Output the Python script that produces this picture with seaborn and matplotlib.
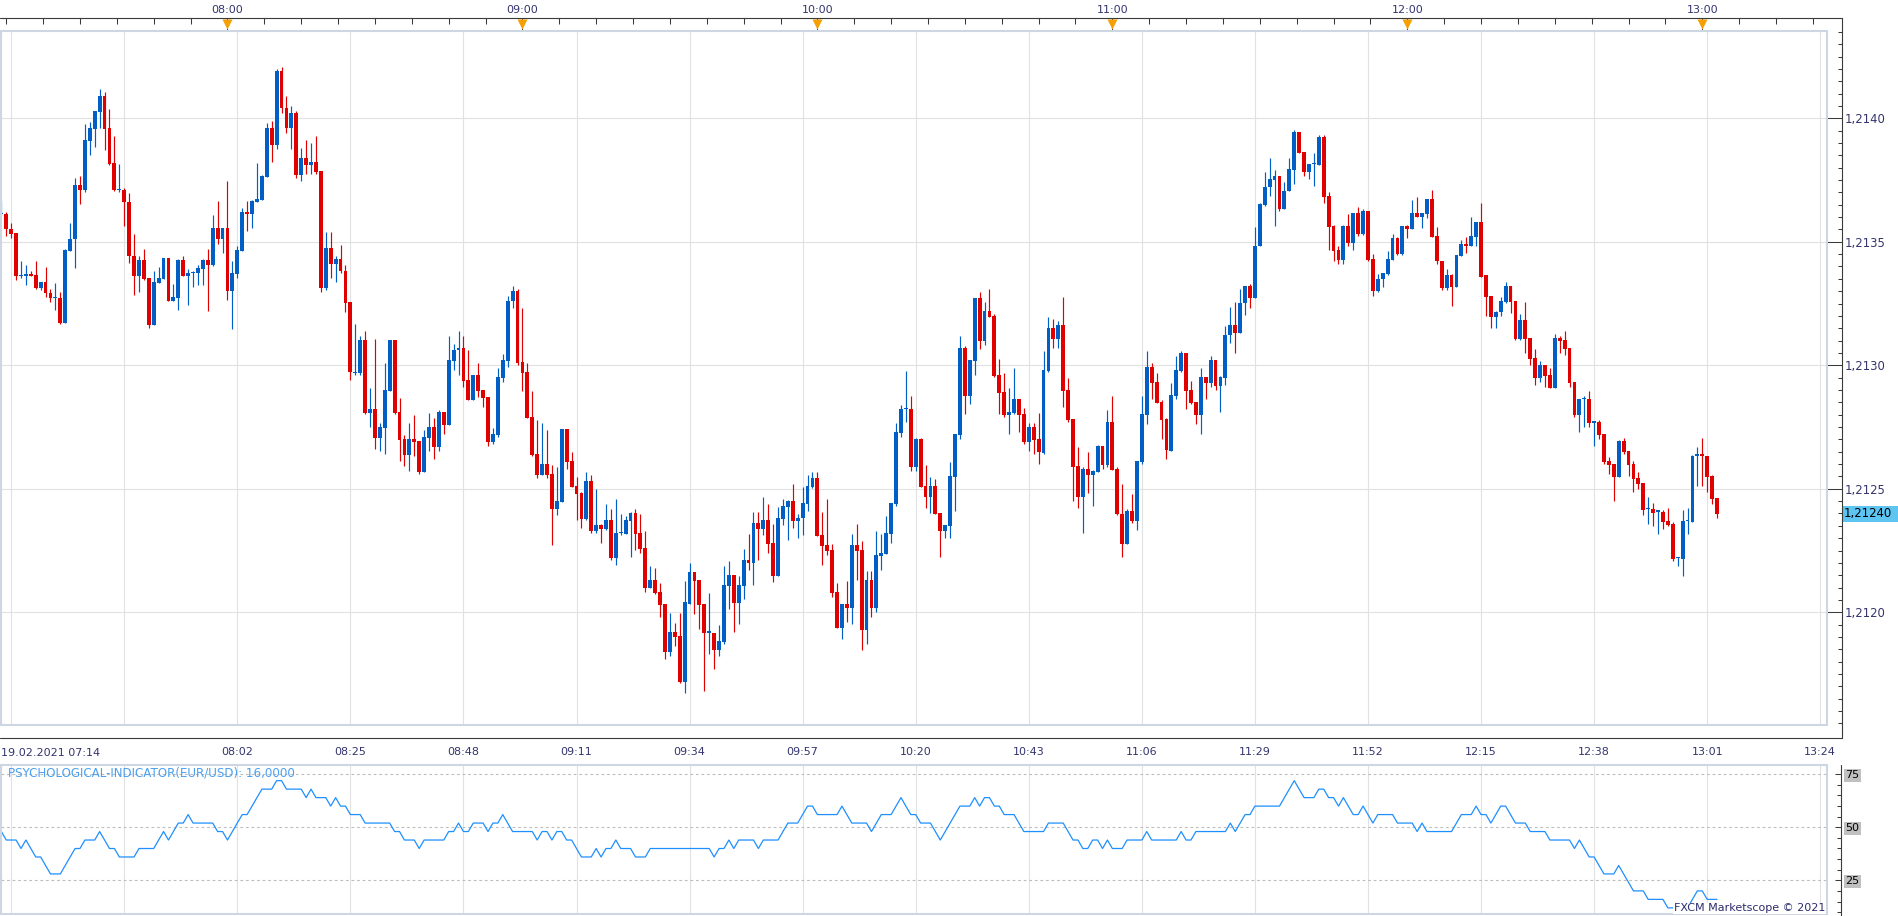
import numpy as np
import pandas as pd
import matplotlib
matplotlib.use("Agg")
import matplotlib.pyplot as plt
import seaborn as sns
from matplotlib.lines import Line2D
from matplotlib.patches import Rectangle
from matplotlib.ticker import FixedLocator, FuncFormatter
from matplotlib.transforms import blended_transform_factory

# EUR/USD 1-minute candles, prices in pips above 1.2100
BASE = 1.2100
PIP = 0.0001
start_time = "07:14"
date_label = "19.02.2021"

open_pips = [
    36.12, 36.14, 35.52, 35.34, 33.62, 33.62, 33.71, 33.64, 33.13, 33.36,
    32.94, 32.74, 32.74, 31.71, 34.62, 35.10, 37.31, 37.08, 39.10, 39.58,
    40.27, 40.90, 39.61, 38.20, 37.10, 37.10, 36.63, 34.42, 33.62, 34.25,
    33.52, 31.64, 33.34, 33.48, 34.33, 32.61, 32.73, 34.25, 33.62, 33.72,
    33.72, 33.88, 34.25, 34.08, 35.54, 35.10, 35.54, 33.01, 33.68, 34.62,
    36.22, 36.12, 36.61, 36.68, 37.63, 39.60, 38.93, 41.90, 40.40, 39.60,
    40.20, 37.71, 38.41, 38.12, 38.22, 37.86, 33.12, 34.73, 34.09, 34.32,
    33.83, 32.55, 29.70, 29.70, 31.03, 28.08, 28.22, 27.06, 27.47, 28.97,
    31.03, 28.10, 27.01, 26.37, 27.01, 26.92, 25.68, 27.06, 27.49, 26.69,
    28.10, 27.59, 30.19, 30.60, 30.70, 29.40, 28.60, 29.61, 29.00, 28.71,
    26.90, 27.18, 29.50, 30.19, 32.60, 33.00, 30.14, 29.73, 27.91, 26.39,
    25.55, 26.00, 25.59, 24.18, 24.46, 27.42, 26.12, 25.11, 24.84, 23.77,
    25.31, 23.28, 23.53, 23.36, 23.73, 22.19, 23.20, 23.16, 23.69, 24.01,
    23.20, 22.59, 20.97, 21.30, 20.81, 20.32, 18.38, 19.19, 19.03, 17.16,
    20.35, 21.62, 21.30, 20.32, 19.18, 19.18, 18.46, 18.78, 21.05, 21.50,
    20.36, 21.05, 22.11, 22.00, 23.61, 23.38, 23.73, 22.81, 21.47, 23.77,
    24.26, 24.50, 23.70, 23.81, 24.38, 25.07, 25.43, 23.12, 22.72, 22.51,
    20.81, 19.36, 20.32, 20.18, 22.72, 22.51, 19.28, 21.30, 20.18, 22.28,
    22.36, 23.18, 24.39, 27.27, 28.23, 28.23, 25.89, 27.01, 25.11, 24.68,
    25.11, 24.01, 23.30, 23.50, 25.49, 27.19, 30.70, 28.77, 30.19, 32.73,
    31.00, 32.20, 32.00, 29.61, 28.92, 27.99, 28.08, 28.63, 28.02, 26.88,
    27.49, 27.01, 26.45, 29.78, 31.52, 31.08, 31.64, 29.00, 27.82, 25.91,
    24.66, 25.79, 25.56, 25.68, 26.73, 25.96, 27.70, 25.79, 24.00, 22.75,
    24.09, 23.69, 26.08, 27.99, 29.93, 29.32, 28.51, 27.82, 26.54, 28.77,
    29.78, 30.50, 29.00, 28.51, 27.99, 29.53, 29.30, 30.22, 29.17, 29.50,
    31.21, 31.64, 31.29, 32.51, 33.23, 32.72, 34.82, 36.51, 37.20, 37.50,
    37.65, 36.31, 37.04, 37.89, 39.43, 38.62, 37.81, 38.14, 38.09, 39.23,
    36.84, 35.62, 34.65, 34.28, 35.62, 34.97, 36.15, 35.30, 36.23, 34.32,
    32.99, 33.51, 33.68, 34.28, 35.14, 34.49, 35.62, 35.50, 36.15, 35.99,
    36.11, 36.72, 35.22, 34.24, 33.11, 33.64, 33.19, 34.41, 34.93, 34.81,
    35.18, 35.82, 33.64, 32.82, 31.97, 32.14, 32.57, 33.22, 32.62, 31.07,
    31.84, 31.11, 30.30, 29.49, 30.01, 29.61, 29.08, 31.11, 31.03, 30.70,
    29.32, 27.98, 28.63, 28.63, 27.68, 27.70, 27.21, 26.11, 25.99, 25.46,
    26.92, 26.52, 25.99, 25.42, 25.22, 24.19, 24.20, 24.08, 24.08, 23.71,
    23.59, 22.21, 22.17, 23.71, 23.67, 26.31, 26.40, 26.31, 25.50, 24.61,
]
high_pips = [
    36.67, 36.20, 35.76, 35.34, 34.21, 34.08, 33.80, 34.21, 33.36, 34.00,
    33.10, 33.32, 32.98, 34.69, 35.78, 37.58, 37.67, 39.77, 39.85, 40.30,
    41.18, 41.06, 40.38, 39.29, 38.16, 37.19, 36.98, 35.30, 34.42, 34.69,
    33.52, 33.80, 34.00, 34.33, 34.33, 33.30, 34.29, 34.42, 33.88, 33.82,
    34.08, 34.29, 34.69, 36.10, 36.67, 35.54, 37.47, 34.21, 34.82, 36.38,
    36.67, 36.68, 38.18, 37.70, 39.80, 39.90, 42.00, 42.09, 40.90, 40.50,
    40.30, 38.79, 39.12, 39.00, 39.30, 37.86, 35.38, 35.38, 34.42, 34.89,
    34.08, 32.57, 31.68, 31.19, 31.40, 29.08, 31.07, 27.66, 30.09, 31.03,
    31.03, 28.69, 27.18, 27.66, 27.98, 26.92, 27.37, 28.06, 27.86, 28.18,
    28.10, 31.19, 30.87, 31.40, 31.19, 30.60, 29.61, 30.09, 29.00, 28.71,
    27.45, 29.89, 30.46, 32.80, 33.20, 33.10, 32.30, 30.08, 28.96, 27.78,
    27.66, 27.38, 25.96, 25.88, 27.42, 27.42, 26.49, 25.47, 24.86, 25.68,
    25.55, 24.99, 23.57, 24.38, 24.18, 24.58, 23.97, 23.89, 24.05, 24.18,
    23.97, 23.28, 21.86, 21.78, 21.18, 20.32, 19.96, 19.55, 19.96, 21.26,
    21.99, 21.62, 21.30, 20.32, 20.77, 19.18, 19.47, 21.86, 22.07, 21.50,
    21.46, 22.55, 23.16, 24.05, 24.05, 24.66, 24.38, 23.57, 24.26, 24.58,
    24.54, 25.19, 23.97, 25.07, 25.55, 25.68, 25.68, 24.05, 24.58, 22.76,
    21.18, 20.32, 21.26, 23.16, 23.57, 22.88, 21.66, 21.66, 23.28, 23.16,
    23.89, 24.42, 27.66, 28.39, 29.77, 28.76, 27.05, 27.05, 25.96, 25.47,
    25.39, 24.01, 23.53, 26.08, 27.22, 31.19, 30.78, 30.22, 32.73, 32.97,
    32.57, 33.10, 32.08, 30.26, 29.69, 29.08, 29.89, 28.63, 28.27, 27.66,
    27.66, 28.06, 30.58, 31.96, 31.88, 31.80, 32.78, 29.49, 27.82, 26.68,
    25.87, 26.48, 25.75, 26.78, 26.73, 28.18, 28.75, 25.88, 25.18, 24.17,
    24.77, 26.11, 28.75, 30.58, 30.09, 29.69, 28.59, 27.87, 29.28, 30.38,
    30.58, 30.50, 29.36, 28.51, 29.89, 29.53, 30.38, 30.22, 29.57, 31.60,
    32.37, 32.57, 33.10, 33.22, 33.30, 35.58, 36.59, 37.81, 38.38, 37.89,
    37.65, 37.41, 38.38, 39.51, 39.43, 38.62, 38.14, 38.58, 39.31, 39.31,
    37.00, 35.70, 34.81, 35.70, 36.11, 36.15, 36.39, 36.31, 36.23, 34.49,
    33.68, 33.72, 34.61, 35.30, 35.18, 35.62, 35.66, 36.68, 36.80, 36.15,
    36.72, 37.08, 35.58, 34.24, 33.88, 33.68, 34.45, 35.09, 35.18, 35.99,
    35.82, 36.59, 33.64, 32.82, 32.18, 32.78, 33.39, 33.22, 32.62, 32.09,
    32.57, 31.11, 30.66, 30.18, 30.01, 29.89, 31.27, 31.19, 31.40, 30.70,
    29.32, 28.63, 28.75, 28.96, 27.74, 27.78, 27.21, 26.27, 25.99, 26.96,
    27.05, 26.52, 26.11, 25.66, 25.22, 24.65, 24.44, 24.12, 24.16, 24.24,
    23.67, 22.25, 24.16, 24.24, 26.36, 26.68, 27.05, 26.31, 25.54, 24.61,
]
low_pips = [
    36.12, 35.23, 35.15, 33.45, 33.55, 33.24, 33.62, 33.08, 33.05, 32.77,
    32.56, 32.24, 31.67, 31.71, 34.62, 33.94, 36.55, 37.03, 38.52, 38.82,
    39.62, 38.72, 38.12, 37.04, 37.03, 35.63, 34.14, 32.85, 32.98, 33.45,
    31.49, 31.64, 33.34, 33.48, 32.61, 32.61, 32.24, 33.62, 32.45, 33.17,
    33.26, 33.26, 32.18, 34.04, 34.93, 34.53, 32.65, 31.48, 33.52, 34.62,
    35.42, 35.54, 36.61, 36.68, 37.63, 38.24, 38.75, 40.20, 39.40, 38.75,
    37.60, 37.45, 37.75, 37.75, 37.75, 32.95, 33.04, 33.52, 33.36, 33.73,
    32.14, 29.42, 29.62, 29.62, 28.02, 27.51, 26.61, 26.53, 26.41, 28.97,
    28.02, 26.12, 25.92, 25.72, 26.33, 25.60, 25.68, 26.53, 26.21, 26.53,
    27.22, 27.59, 29.81, 29.62, 29.13, 28.60, 28.60, 28.73, 28.32, 26.73,
    26.82, 27.10, 29.34, 29.95, 32.30, 30.01, 28.96, 27.88, 26.32, 25.45,
    25.55, 25.45, 22.72, 23.93, 24.46, 25.81, 25.08, 23.73, 23.41, 23.73,
    23.20, 23.20, 22.80, 23.32, 22.11, 21.91, 23.12, 23.16, 22.23, 22.51,
    22.39, 20.81, 20.97, 20.73, 19.80, 18.09, 18.22, 18.62, 17.12, 16.72,
    20.32, 19.92, 19.31, 16.80, 18.30, 17.69, 18.22, 18.70, 20.12, 19.19,
    19.51, 20.53, 21.70, 21.11, 22.12, 23.14, 22.41, 21.23, 21.47, 23.54,
    22.93, 23.42, 23.01, 23.14, 24.11, 25.03, 23.09, 21.92, 22.32, 20.62,
    19.36, 18.92, 19.61, 19.53, 21.31, 18.47, 18.72, 19.81, 20.01, 21.72,
    22.36, 22.81, 24.31, 27.11, 27.72, 25.73, 25.73, 25.08, 24.23, 24.03,
    23.99, 22.24, 23.01, 23.01, 24.11, 27.03, 28.04, 28.45, 29.62, 30.64,
    30.84, 31.97, 29.54, 28.04, 27.91, 27.21, 28.04, 27.30, 26.82, 26.53,
    26.41, 26.00, 26.41, 29.74, 30.72, 30.72, 28.32, 27.71, 24.50, 24.21,
    23.20, 24.82, 24.30, 25.68, 25.80, 25.88, 25.76, 23.93, 22.22, 22.75,
    23.60, 23.32, 26.00, 27.63, 28.64, 28.48, 27.02, 26.21, 26.53, 28.64,
    29.74, 28.24, 28.44, 27.63, 27.22, 28.64, 29.13, 29.01, 28.12, 29.21,
    30.92, 30.51, 31.29, 32.02, 32.33, 32.72, 34.82, 36.43, 36.84, 35.62,
    36.23, 36.31, 37.04, 37.32, 38.58, 37.65, 37.53, 37.24, 38.09, 36.59,
    34.65, 34.24, 34.12, 34.12, 34.85, 34.65, 35.22, 35.26, 34.24, 32.82,
    32.95, 33.15, 33.64, 34.28, 34.45, 34.45, 35.14, 35.50, 35.99, 35.54,
    35.95, 35.18, 34.12, 33.03, 33.03, 32.42, 33.19, 34.41, 34.53, 34.81,
    34.85, 33.59, 32.01, 31.53, 31.53, 32.00, 32.53, 32.13, 31.03, 31.03,
    30.50, 30.01, 29.20, 29.32, 29.12, 29.08, 29.08, 30.50, 30.42, 29.12,
    27.90, 27.29, 27.49, 27.49, 26.72, 27.01, 25.99, 25.58, 24.49, 25.46,
    26.40, 25.50, 24.89, 25.01, 23.92, 23.59, 23.51, 23.18, 23.39, 23.51,
    22.09, 21.88, 21.48, 23.18, 23.67, 25.10, 25.10, 24.89, 24.40, 23.81,
]
close_pips = [
    36.14, 35.52, 35.32, 33.62, 33.65, 33.71, 33.62, 33.13, 33.36, 32.94,
    32.73, 32.75, 31.71, 34.65, 35.13, 37.31, 37.08, 39.13, 39.61, 40.30,
    40.90, 39.58, 38.16, 37.08, 37.12, 36.60, 34.42, 33.62, 34.25, 33.48,
    31.64, 33.36, 33.52, 34.33, 32.61, 32.76, 34.25, 33.62, 33.72, 33.73,
    33.92, 34.25, 34.08, 35.54, 35.10, 35.54, 33.01, 33.72, 34.65, 36.22,
    36.12, 36.64, 36.72, 37.67, 39.60, 38.93, 41.90, 40.40, 39.60, 40.20,
    37.71, 38.41, 38.12, 38.22, 37.83, 33.12, 34.73, 34.09, 34.32, 33.81,
    32.51, 29.72, 29.72, 31.03, 28.05, 28.22, 27.06, 27.49, 29.00, 31.03,
    28.08, 26.98, 26.37, 27.01, 26.90, 25.68, 27.10, 27.49, 26.69, 28.10,
    27.59, 30.22, 30.62, 30.70, 29.38, 28.60, 29.61, 28.97, 28.69, 26.90,
    27.21, 29.53, 30.22, 32.60, 33.00, 30.08, 29.70, 27.88, 26.36, 25.55,
    26.00, 25.55, 24.18, 24.50, 27.42, 26.08, 25.08, 24.78, 23.77, 25.31,
    23.28, 23.53, 23.36, 23.73, 22.19, 23.20, 23.22, 23.73, 24.01, 23.16,
    22.55, 20.97, 21.30, 20.77, 20.28, 18.38, 19.19, 18.99, 17.16, 20.41,
    21.62, 21.26, 20.28, 19.15, 19.19, 18.46, 18.82, 21.09, 21.50, 20.36,
    21.09, 22.11, 22.00, 23.61, 23.38, 23.73, 22.77, 21.47, 23.81, 24.30,
    24.50, 23.70, 23.81, 24.42, 25.11, 25.43, 23.09, 22.69, 22.49, 20.78,
    19.36, 20.32, 20.18, 22.72, 22.49, 19.28, 21.30, 20.18, 22.31, 22.39,
    23.20, 24.42, 27.30, 28.23, 28.25, 25.89, 27.01, 25.08, 24.68, 25.11,
    23.99, 23.30, 23.53, 25.51, 27.22, 30.70, 28.77, 30.22, 32.73, 31.00,
    32.20, 31.97, 29.57, 28.89, 27.99, 28.10, 28.63, 27.99, 26.88, 27.49,
    26.98, 26.49, 29.81, 31.52, 31.08, 31.64, 28.97, 27.79, 25.88, 24.66,
    25.79, 25.56, 25.72, 26.73, 25.96, 27.70, 25.76, 23.97, 22.75, 24.09,
    23.69, 26.11, 28.02, 29.93, 29.30, 28.48, 27.79, 26.57, 28.79, 29.81,
    30.50, 28.97, 28.48, 27.99, 29.53, 29.30, 30.22, 29.17, 29.53, 31.23,
    31.64, 31.29, 32.53, 33.22, 32.72, 34.85, 36.55, 37.20, 37.53, 37.65,
    36.31, 37.04, 37.93, 39.43, 38.58, 37.81, 38.14, 38.16, 39.23, 36.80,
    35.58, 34.61, 34.28, 35.62, 34.97, 36.15, 35.30, 36.23, 34.28, 32.99,
    33.51, 33.72, 34.32, 35.14, 34.49, 35.62, 35.50, 36.15, 35.99, 36.15,
    36.72, 35.18, 34.24, 33.11, 33.64, 33.19, 34.45, 34.93, 34.81, 35.22,
    35.82, 33.59, 32.78, 31.97, 32.14, 32.62, 33.22, 32.57, 31.07, 31.84,
    31.07, 30.26, 29.49, 30.01, 29.57, 29.08, 31.11, 30.99, 30.66, 29.28,
    27.98, 28.63, 28.65, 27.66, 27.70, 27.17, 26.07, 25.95, 25.46, 26.92,
    26.48, 25.95, 25.38, 25.18, 24.16, 24.21, 24.04, 24.10, 23.67, 23.55,
    22.17, 22.23, 23.71, 23.73, 26.31, 26.40, 26.31, 25.46, 24.57, 23.97,
]
# psychological indicator (share of rising bars, %)
psy_values = [
    48, 44, 44, 44, 40, 44, 40, 36, 36, 32, 28, 28, 28, 32, 36, 40, 40, 44, 44, 44,
    48, 44, 40, 40, 36, 36, 36, 36, 40, 40, 40, 40, 44, 48, 44, 48, 52, 52, 56, 52,
    52, 52, 52, 52, 48, 48, 44, 48, 52, 56, 56, 60, 64, 68, 68, 68, 72, 72, 68, 68,
    68, 68, 64, 68, 64, 64, 64, 60, 64, 60, 60, 56, 56, 56, 52, 52, 52, 52, 52, 52,
    48, 48, 44, 44, 44, 40, 44, 44, 44, 44, 44, 48, 48, 52, 48, 48, 52, 52, 52, 48,
    52, 52, 56, 52, 48, 48, 48, 48, 48, 44, 48, 48, 44, 48, 48, 44, 44, 40, 36, 36,
    36, 40, 36, 40, 40, 44, 40, 40, 40, 36, 36, 36, 40, 40, 40, 40, 40, 40, 40, 40,
    40, 40, 40, 40, 40, 36, 40, 40, 44, 40, 44, 44, 44, 44, 40, 44, 44, 44, 44, 48,
    52, 52, 52, 56, 60, 60, 56, 56, 56, 56, 56, 60, 56, 52, 52, 52, 52, 48, 52, 56,
    56, 56, 60, 64, 60, 56, 56, 52, 52, 52, 48, 44, 48, 52, 56, 60, 60, 60, 64, 60,
    64, 64, 60, 60, 56, 56, 56, 52, 48, 48, 48, 48, 48, 52, 52, 52, 52, 48, 44, 44,
    40, 40, 44, 44, 40, 44, 40, 40, 40, 44, 44, 44, 44, 48, 44, 44, 44, 44, 44, 44,
    48, 44, 44, 48, 48, 48, 48, 48, 48, 48, 52, 48, 52, 56, 56, 60, 60, 60, 60, 60,
    60, 64, 68, 72, 68, 64, 64, 64, 68, 68, 64, 64, 60, 64, 60, 56, 56, 60, 56, 52,
    56, 56, 56, 56, 52, 52, 52, 52, 48, 52, 48, 48, 48, 48, 48, 48, 52, 56, 56, 56,
    60, 56, 56, 52, 56, 60, 60, 56, 52, 52, 52, 48, 48, 48, 48, 44, 44, 44, 44, 44,
    40, 44, 40, 36, 36, 32, 28, 28, 28, 32, 28, 24, 20, 20, 20, 16, 16, 16, 16, 12,
    12, 12, 12, 12, 16, 20, 20, 16, 16, 16,
]
psy_name = "PSYCHOLOGICAL-INDICATOR(EUR/USD)"
psy_levels = [25, 50, 75]

price_ticks = [1.2120, 1.2125, 1.2130, 1.2135, 1.2140]
last_price = 1.21240
bottom_ticks = ["07:14", "07:16", "07:39", "08:02", "08:25", "08:48", "09:11", "09:34",
                "09:57", "10:20", "10:43", "11:06", "11:29", "11:52", "12:15", "12:38",
                "13:01", "13:24"]
bottom_hidden = ["07:14", "07:16", "07:39"]
top_ticks = ["08:00", "09:00", "10:00", "11:00", "12:00", "13:00"]
top_minor_start, top_minor_step = "07:15", 7.5
bottom_minor_step = 23 / 8
copyright_text = "FXCM Marketscope \u00a9 2021"

BLUE, RED = "#005ec4", "#e00000"
TXT = "#34346e"
AXC = "#3a3a3a"
GRID = "#e1e1e1"
FRAME = "#cdd6e2"


def minute_index(hhmm):
    h, m = map(int, hhmm.split(":"))
    h0, m0 = map(int, start_time.split(":"))
    return (h * 60 + m) - (h0 * 60 + m0)


df = pd.DataFrame({"open": open_pips, "high": high_pips, "low": low_pips, "close": close_pips})
df = BASE + df * PIP
df["idx"] = np.arange(len(df))
up = (df["close"] >= df["open"]).to_numpy()
colors = np.where(up, BLUE, RED)

sns.set_style("white")
plt.rcParams["font.family"] = ["DejaVu Sans"]

# layout in pixels of the 1899x916 canvas
W, H = 1899, 916
PT = 0.72  # points per pixel at dpi 100


def fx(px):
    return px / W


def fy(py):
    return 1 - py / H


X0, X1 = 1.0, 1826.7
MAIN_TOP, MAIN_BOT = 31.0, 725.0
PSY_TOP, PSY_BOT = 765.0, 914.0
TOP_AXIS_Y, BOT_AXIS_Y, PRICE_AXIS_X, PSY_AXIS_X = 18.3, 737.7, 1841.7, 1840.7
CANDLE0_X, CANDLE_DX = 1.33, 4.916
PX_PER_PIP, Y_1_2140 = 24.7, 118.3

xlim = ((X0 - CANDLE0_X) / CANDLE_DX, (X1 - CANDLE0_X) / CANDLE_DX)
ylim = (1.2140 - (MAIN_BOT - Y_1_2140) / PX_PER_PIP * PIP,
        1.2140 + (Y_1_2140 - MAIN_TOP) / PX_PER_PIP * PIP)

fig = plt.figure(figsize=(W / 100, H / 100), dpi=100)
fig.patch.set_facecolor("white")
ax = fig.add_axes([fx(X0), fy(MAIN_BOT), fx(X1) - fx(X0), fy(MAIN_TOP) - fy(MAIN_BOT)])
ax2 = fig.add_axes([fx(X0), fy(PSY_BOT), fx(X1) - fx(X0), fy(PSY_TOP) - fy(PSY_BOT)])

# candles
body_lo = np.minimum(df["open"], df["close"])
body_h = np.maximum((df["close"] - df["open"]).abs(), 0.045 * PIP)
ax.vlines(df["idx"], df["low"], df["high"], colors=colors, lw=0.85, zorder=3)
ax.bar(df["idx"], body_h, bottom=body_lo, width=0.78, color=colors, linewidth=0, zorder=4)
ax.set_xlim(*xlim)
ax.set_ylim(*ylim)

bottom_pos = [minute_index(t) for t in bottom_ticks]
bottom_lab = ["" if t in bottom_hidden else t for t in bottom_ticks]
ax.set_xticks(bottom_pos, labels=bottom_lab)
ax.xaxis.set_minor_locator(FixedLocator(np.arange(minute_index("07:16"), xlim[1], bottom_minor_step)))
ax.set_yticks(price_ticks)
ax.yaxis.set_minor_locator(FixedLocator(np.arange(1.21150, 1.21440, 0.00005)))
ax.yaxis.set_major_formatter(FuncFormatter(lambda v, _: f"{v:.4f}".replace(".", ",")))
ax.yaxis.tick_right()
ax.spines["right"].set_position(("outward", (PRICE_AXIS_X - X1) * PT))
ax.spines["bottom"].set_position(("outward", (BOT_AXIS_Y - MAIN_BOT) * PT))
for s in ax.spines.values():
    s.set_visible(False)
ax.tick_params(axis="y", which="major", direction="in", length=(PRICE_AXIS_X - X1) * PT,
               width=0.75, color=AXC, labelsize=8.4, labelcolor=TXT, pad=2.0)
ax.tick_params(axis="y", which="minor", direction="in", length=3.2, width=0.75, color=AXC)
ax.tick_params(axis="x", which="major", direction="in", length=8.4, width=0.75, color=AXC,
               labelsize=8, labelcolor=TXT, pad=6.8)
ax.tick_params(axis="x", which="minor", direction="in", length=4.1, width=0.75, color=AXC)
ax.grid(True, which="major", color=GRID, lw=0.8)
ax.set_axisbelow(True)
ax.set_xlabel("")
ax.set_ylabel("")
ax.add_patch(Rectangle((0, 0), 1, 1, transform=ax.transAxes, fill=False, ec=FRAME,
                       lw=1.5, clip_on=False, zorder=6))

ax.annotate(f"{date_label} {start_time}", xy=(0, 0), xycoords=("data", "axes fraction"),
            xytext=(0, -(755.8 - MAIN_BOT) * PT), textcoords="offset points",
            ha="left", va="baseline", fontsize=8, color=TXT)

# top time axis with hour markers
top = ax.secondary_xaxis(1 + (MAIN_TOP - TOP_AXIS_Y) / (MAIN_BOT - MAIN_TOP))
top_pos = [minute_index(t) for t in top_ticks]
top.set_xticks(top_pos, labels=top_ticks)
top.xaxis.set_minor_locator(FixedLocator(np.arange(minute_index(top_minor_start), xlim[1], top_minor_step)))
top.tick_params(which="major", direction="in", length=(MAIN_TOP - TOP_AXIS_Y) * PT, width=0.75,
                color=AXC, labelsize=8, labelcolor=TXT, pad=2.4)
top.tick_params(which="minor", direction="in", length=4.3, width=0.75, color=AXC)
for s in top.spines.values():
    s.set_visible(False)
ax.plot(top_pos, [1 + (MAIN_TOP - 23.8) / (MAIN_BOT - MAIN_TOP)] * len(top_pos),
        transform=ax.get_xaxis_transform(), ls="none", marker="v", ms=7.3,
        color="#f5a000", mec="none", clip_on=False, zorder=7)

# current price tag
blend = blended_transform_factory(fig.transFigure, ax.transData)
tag_h = 16 / PX_PER_PIP * PIP
ax.add_patch(Rectangle((fx(1842.3), last_price - tag_h / 2), 1 - fx(1842.3), tag_h,
                       transform=blend, fc="#5ec4f2", ec="none", clip_on=False, zorder=8))
ax.text(fx(1843.5), last_price, f"{last_price:.5f}".replace(".", ","), transform=blend,
        ha="left", va="center", fontsize=8.4, color="black", zorder=9)

# indicator panel
idx = df["idx"].to_numpy()
sns.lineplot(x=idx, y=psy_values, ax=ax2, color="#1e8fff", lw=0.9, zorder=4)
for lvl in psy_levels:
    ax2.axhline(lvl, color="#bdbdbd", lw=0.8, ls=(0, (2.5, 2.5)), zorder=2)
ax2.set_xlim(*xlim)
ax2.set_ylim(75 - (PSY_BOT - 774.3) / 2.12, 75 + (774.3 - PSY_TOP) / 2.12)
ax2.set_xticks(bottom_pos)
ax2.tick_params(axis="x", bottom=False, labelbottom=False)
ax2.grid(True, axis="x", color=GRID, lw=0.8)
ax2.set_axisbelow(True)
ax2.yaxis.tick_right()
ax2.spines["right"].set_position(("outward", (PSY_AXIS_X - X1) * PT))
for s in ax2.spines.values():
    s.set_visible(False)
ax2.set_yticks(psy_levels)
ax2.yaxis.set_minor_locator(FixedLocator(np.arange(10, 80, 5)))
ax2.tick_params(axis="y", which="major", direction="in", length=4.3, width=0.75, color=AXC,
                labelsize=8, labelcolor="black", pad=3.5)
ax2.tick_params(axis="y", which="minor", direction="in", length=3.0, width=0.75, color=AXC)
for lbl in ax2.get_yticklabels():
    lbl.set_bbox(dict(boxstyle="square,pad=0.15", fc="#c0c0c0", ec="none"))
ax2.set_xlabel("")
ax2.set_ylabel("")
ax2.add_patch(Rectangle((0, 0), 1, 1, transform=ax2.transAxes, fill=False, ec=FRAME,
                        lw=1.5, clip_on=False, zorder=6))
ax2.annotate(f"{psy_name}: {psy_values[-1]:.4f}".replace(".", ","), xy=(0, 1),
             xycoords="axes fraction", xytext=(7.3 * PT, -(773.3 - PSY_TOP) * PT),
             textcoords="offset points", ha="left", va="center", fontsize=8.6, color="#4a9ff0")

# axis lines
for xs, ys in [((0, PRICE_AXIS_X), (TOP_AXIS_Y, TOP_AXIS_Y)),
               ((PRICE_AXIS_X, PRICE_AXIS_X), (TOP_AXIS_Y, BOT_AXIS_Y)),
               ((0, PRICE_AXIS_X), (BOT_AXIS_Y, BOT_AXIS_Y)),
               ((PSY_AXIS_X, PSY_AXIS_X), (PSY_TOP, H))]:
    fig.add_artist(Line2D([fx(xs[0]), fx(xs[1])], [fy(ys[0]), fy(ys[1])], color=AXC, lw=0.8))

fig.text(fx(1825), fy(908.3), copyright_text, ha="right", va="center", fontsize=8, color="#2d2d6e",
         bbox=dict(boxstyle="square,pad=0.05", fc="white", ec="none"))

fig.savefig("out.png", dpi=100, facecolor="white")
